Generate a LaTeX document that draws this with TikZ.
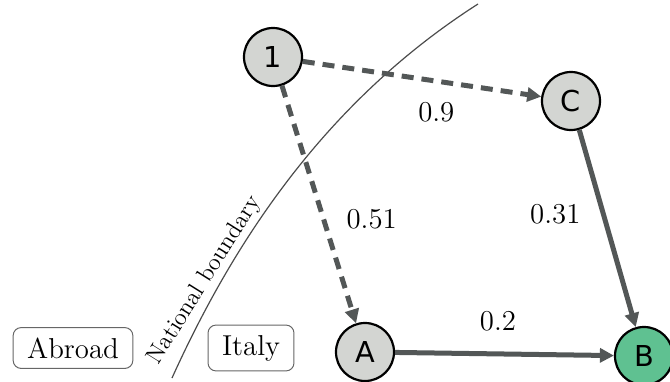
\documentclass[tikz,border=0pt]{standalone}
\usepackage{fontspec}
\newfontfamily\statefont{DejaVu Sans}
\usetikzlibrary{arrows.meta}
\definecolor{edgegray}{RGB}{83,87,87}
\definecolor{nodegray}{RGB}{211,213,210}
\definecolor{goalgreen}{RGB}{95,193,145}

\begin{document}
\begin{tikzpicture}[x=0.5pt, y=-0.5pt,
  state/.style={circle, draw=black, line width=1.1pt, fill=nodegray, minimum size=29pt, inner sep=0pt, font=\statefont\Large},
  trans/.style={edgegray, line width=2.5pt, -{Triangle[length=7pt, width=7pt]}},
  maybe/.style={trans, dash pattern=on 6pt off 4pt},
  region/.style={draw=black!60, rounded corners=4pt, line width=0.5pt, inner xsep=7pt, inner ysep=5pt, font=\Large},
  prob/.style={black, font=\Large}]
  \clip (0,0) rectangle (670,381);
  % national boundary
  \draw[black!70, line width=0.6pt] (172,378) .. controls (230,250) and (320,105) .. (478,4);
  \node[font=\large, rotate=58] (border) at (205,280) {National boundary};
  \node[region] (abroad) at (73,348) {Abroad};
  \node[region] (italy) at (251,348) {Italy};
  % states
  \node[state] (s1) at (273,57) {1};
  \node[state] (sC) at (571,101) {C};
  \node[state] (sA) at (365,352) {A};
  \node[state, fill=goalgreen] (sB) at (644,356) {B};
  % transitions
  \draw[maybe] (s1) -- node[prob, pos=0.56, below=6pt] {0.9} (sC);
  \draw[maybe] (s1) -- node[prob, pos=0.56, right=7pt] {0.51} (sA);
  \draw[trans] (sC) -- node[prob, pos=0.43, left=7pt] {0.31} (sB);
  \draw[trans] (sA) -- node[prob, pos=0.47, above=7pt] {0.2} (sB);
\end{tikzpicture}
\end{document}
